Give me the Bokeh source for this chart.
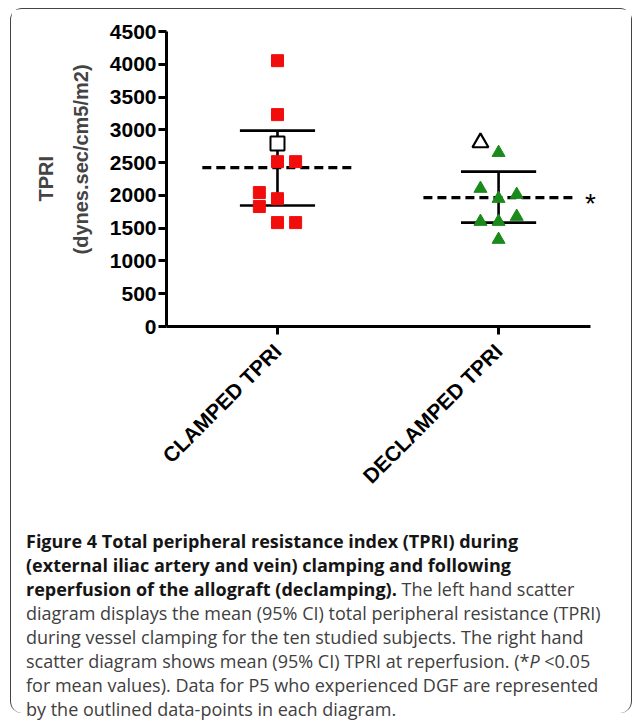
import math
from bokeh.plotting import figure
from bokeh.models import Range1d, Title, FixedTicker, Div, ColumnDataSource
from bokeh.layouts import column
from bokeh.embed import file_html
from bokeh.resources import INLINE
from bokeh.core.properties import value

# ---------------- data ----------------
categories = ["CLAMPED TPRI", "DECLAMPED TPRI"]
y_ticks = [0, 500, 1000, 1500, 2000, 2500, 3000, 3500, 4000, 4500]

clamped_values = [4055, 3232, 2515, 2515, 2043, 1830, 1950, 1585, 1585]
clamped_slots = [0, 0, 0, 1, -1, -1, 0, 0, 1]
clamped_p5 = [2790]
clamped_p5_slot = [0]

declamped_values = [2652, 2104, 2012, 1951, 1600, 1600, 1677, 1326]
declamped_slots = [0, -1, 1, 0, -1, 0, 1, 0]
declamped_p5 = [2805]
declamped_p5_slot = [-1]

means = [2424, 1966]
ci_low = [1845, 1585]
ci_high = [2988, 2363]

# ---------------- styling constants ----------------
SLOT = 0.082
MEAN_HALF = 0.34
CAP_HALF = 0.17
RED = "#f20d0d"
GREEN = "#1a8a1a"
X_START, X_AXIS_END, X_END = -0.502, 1.416, 1.461

W, H = 620, 515
p = figure(width=W, height=H, x_range=Range1d(X_START, X_END), y_range=Range1d(0, 4500),
           min_border_left=155, min_border_right=31, min_border_top=22, min_border_bottom=198,
           output_backend="svg", toolbar_location=None)
p.outline_line_color = None
p.xgrid.visible = False
p.ygrid.visible = False
p.background_fill_color = "white"
p.border_fill_color = "white"

# axes
for ax in (p.xaxis[0], p.yaxis[0]):
    ax.axis_line_width = 3
    ax.axis_line_color = "black"
    ax.major_tick_line_width = 3
    ax.major_tick_line_color = "black"
    ax.major_tick_out = 8
    ax.major_tick_in = 0
    ax.minor_tick_line_color = None
    ax.major_label_text_font = "Liberation Sans"
    ax.major_label_text_font_style = "bold"
    ax.major_label_text_color = "black"

p.yaxis.ticker = FixedTicker(ticks=y_ticks)
p.yaxis.major_label_text_font_size = "21px"
p.yaxis.major_label_standoff = 2

p.xaxis.bounds = (X_START, X_AXIS_END)
p.xaxis.ticker = FixedTicker(ticks=list(range(len(categories))))
p.xaxis.major_label_overrides = {i: c for i, c in enumerate(categories)}
p.xaxis.major_label_orientation = math.pi / 4
p.xaxis.major_label_text_font_size = "21px"
p.xaxis.major_label_standoff = 13

# y-axis title in two lines
p.add_layout(Title(text="(dynes.sec/cm5/m2)", align="left", offset=72, vertical_align="top",
                   standoff=25, text_font="Liberation Sans", text_font_style="bold",
                   text_font_size="20px"), "left")
p.add_layout(Title(text="TPRI", align="left", offset=125, vertical_align="middle",
                   standoff=0, text_font="Liberation Sans", text_font_style="bold",
                   text_font_size="20px"), "left")

# error bars and means
idx = list(range(len(categories)))
eb = ColumnDataSource(dict(
    x=idx, lo=ci_low, hi=ci_high, m=means,
    cx0=[i - CAP_HALF for i in idx], cx1=[i + CAP_HALF for i in idx],
    mx0=[i - MEAN_HALF for i in idx], mx1=[i + MEAN_HALF for i in idx],
))
p.segment(x0="x", x1="x", y0="lo", y1="hi", source=eb, line_color="black", line_width=2.6)
p.segment(x0="cx0", x1="cx1", y0="hi", y1="hi", source=eb, line_color="black", line_width=2.6)
p.segment(x0="cx0", x1="cx1", y0="lo", y1="lo", source=eb, line_color="black", line_width=2.6)
p.segment(x0="mx0", x1="mx1", y0="m", y1="m", source=eb, line_color="black", line_width=3.2,
          line_dash="9 5")

# points
p.scatter([0 + s * SLOT for s in clamped_slots], clamped_values, marker="square", size=12,
          fill_color=RED, line_color=RED)
p.scatter([0 + s * SLOT for s in clamped_p5_slot], clamped_p5, marker="square", size=14,
          fill_color="white", line_color="black", line_width=2)
p.scatter([1 + s * SLOT for s in declamped_slots], declamped_values, marker="triangle", size=13,
          fill_color=GREEN, line_color=GREEN)
p.scatter([1 + s * SLOT for s in declamped_p5_slot], declamped_p5, marker="triangle", size=16,
          fill_color="white", line_color="black", line_width=2.2)

# significance star
p.text(x=[1 + 0.415], y=[means[1]], text=["*"], text_font=value("Liberation Sans"),
       text_font_size="28px", text_baseline="middle", text_align="center", y_offset=6)

caption_html = (
    '<div style="font-family:\'Open Sans\';font-size:18px;line-height:24px;color:#404040;white-space:nowrap">'
    '<b style="color:#151515">Figure 4 Total peripheral resistance index (TPRI) during<br>'
    '(external iliac artery and vein) clamping and following<br>'
    'reperfusion of the allograft (declamping).</b> The left hand scatter<br>'
    'diagram displays the mean (95% CI) total peripheral resistance (TPRI)<br>'
    'during vessel clamping for the ten studied subjects. The right hand<br>'
    'scatter diagram shows mean (95% CI) TPRI at reperfusion. (*<i>P</i> &lt;0.05<br>'
    'for mean values). Data for P5 who experienced DGF are represented<br>'
    'by the outlined data-points in each diagram.'
    '</div>'
)
cap = Div(text=caption_html, width=600, height=184, margin=(5, 0, 0, 15))

layout = column(p, cap, margin=(8, 0, 0, 10),
                styles={"border": "1.5px solid #444", "border-bottom": "0",
                        "border-radius": "12px"})

open("out.html", "w").write(file_html(layout, INLINE))
